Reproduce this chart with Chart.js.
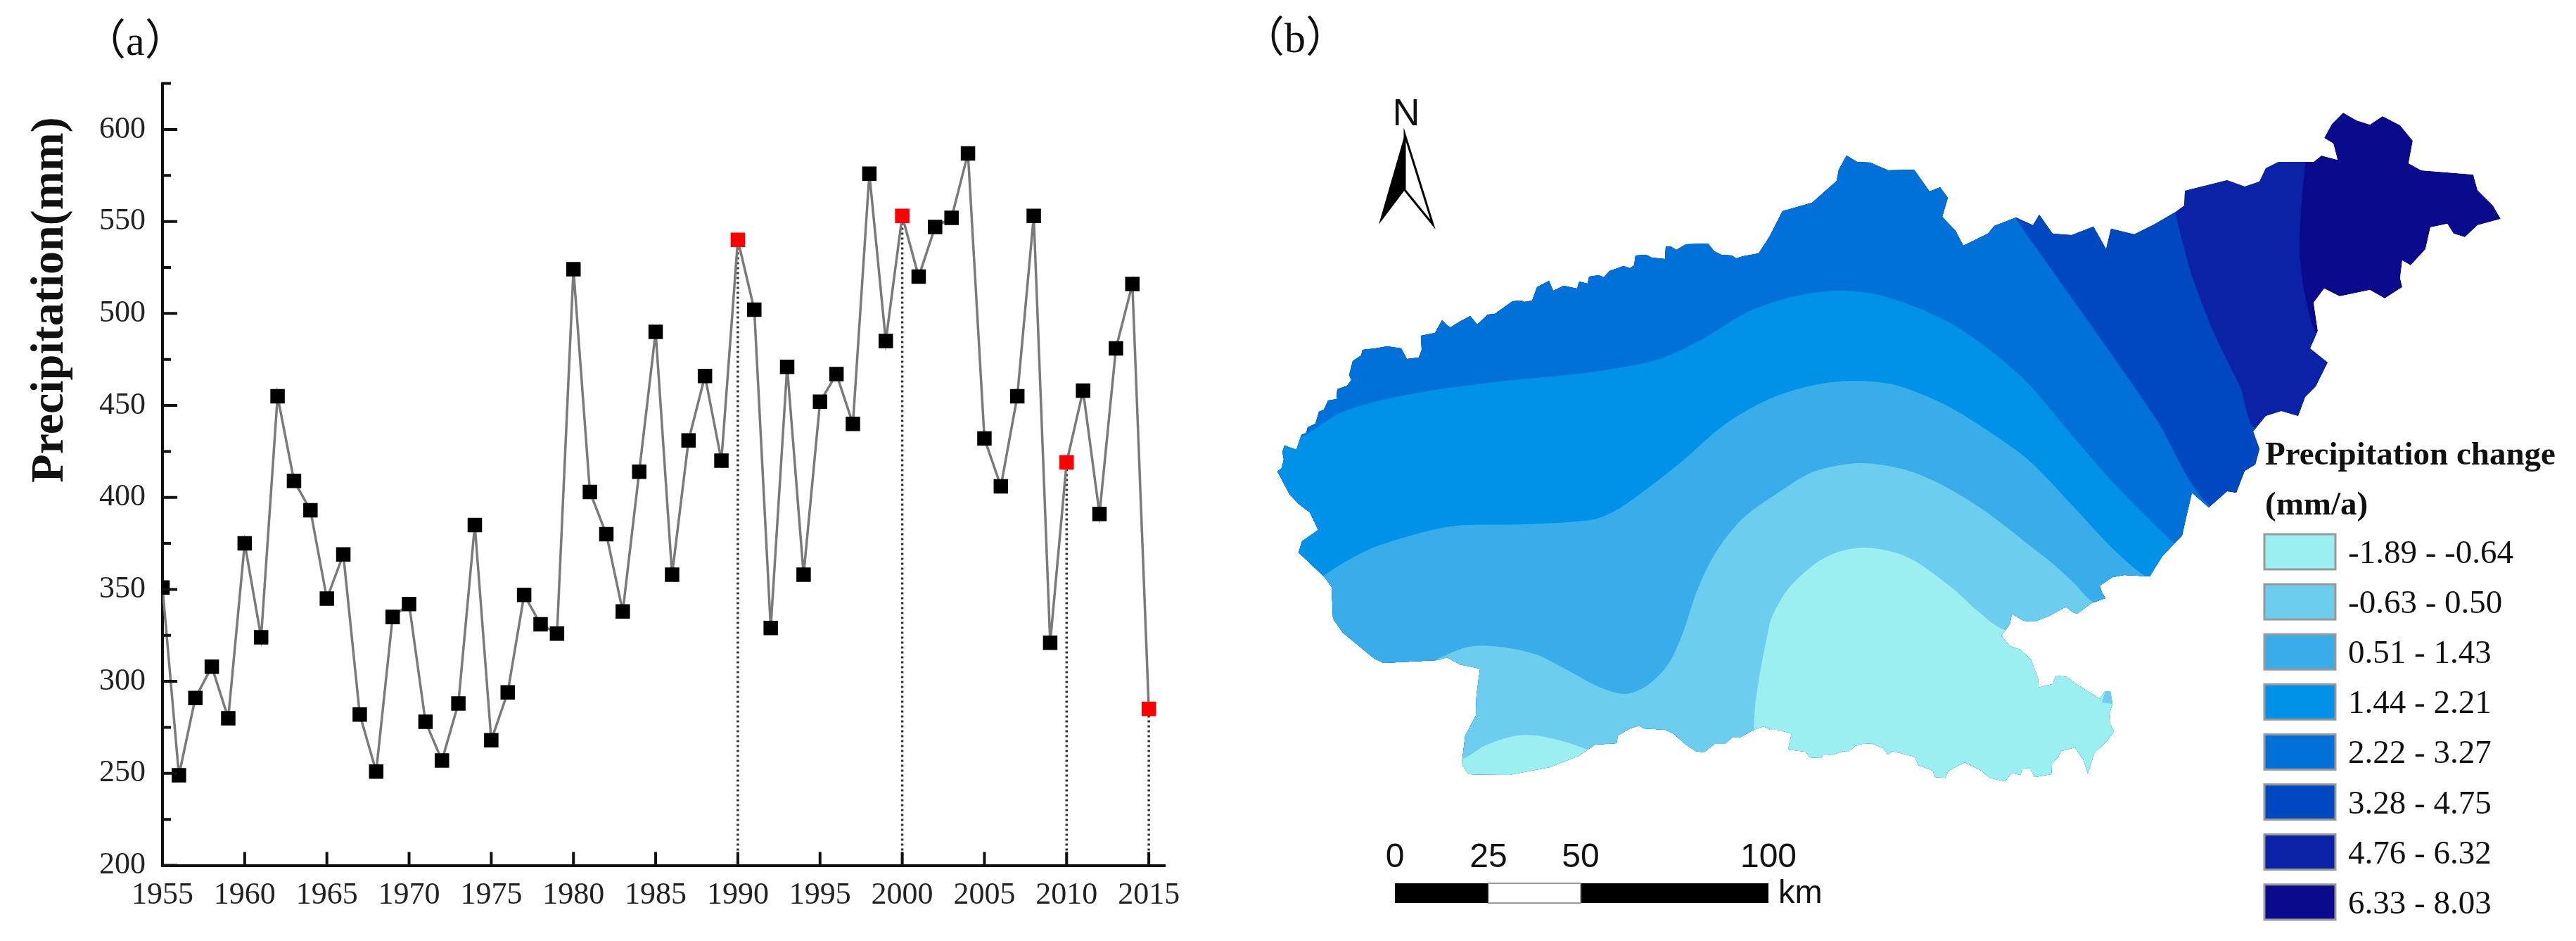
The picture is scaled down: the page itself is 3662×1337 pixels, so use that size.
<!DOCTYPE html>
<html>
<head>
<meta charset="utf-8">
<title>Precipitation</title>
<script src="https://cdn.jsdelivr.net/npm/chart.js@4"></script>
<style>
  html, body { margin: 0; padding: 0; background: #fff; }
  canvas { position: absolute; top: 0; filter: blur(0.6px); }
  #lineChart { left: 0; }
  #mapChart { left: 1750px; }
</style>
</head>
<body>
<canvas id="lineChart" width="1750" height="1337"></canvas>
<canvas id="mapChart" width="1912" height="1337"></canvas>
<script>
// (a) annual precipitation
const years = [1955,1956,1957,1958,1959,1960,1961,1962,1963,1964,1965,1966,1967,1968,1969,1970,1971,1972,1973,1974,1975,1976,1977,1978,1979,1980,1981,1982,1983,1984,1985,1986,1987,1988,1989,1990,1991,1992,1993,1994,1995,1996,1997,1998,1999,2000,2001,2002,2003,2004,2005,2006,2007,2008,2009,2010,2011,2012,2013,2014,2015];
const precipitation = [351,249,291,308,280,375,324,455,409,393,345,369,282,251,335,342,278,257,288,385,268,294,347,331,326,524,403,380,338,414,490,358,431,466,420,540,502,329,471,358,452,467,440,576,485,553,520,547,552,587,432,406,455,553,321,419,458,391,481,516,285];
const redYears = [1990, 2000, 2010, 2015];
const xTicks = [1955,1960,1965,1970,1975,1980,1985,1990,1995,2000,2005,2010,2015];
const yTicks = [200,225,250,275,300,325,350,375,400,425,450,475,500,525,550,575,600,625];

// (b) map, outline and contour lines
const outlineNorthWest = [[1816,670],[1822,665],[1825,653],[1823,642],[1826,633],[1843,639],[1850,618],[1857,615],[1859,607],[1870,602],[1875,585],[1882,582],[1888,569],[1900,567],[1901,553],[1915,548],[1921,540],[1918,533],[1923,513],[1935,505],[1937,497],[1955,495],[1972,492],[1992,495],[2000,510],[2017,508],[2021,497],[2020,477],[2040,473],[2050,455],[2058,463],[2062,465],[2075,457],[2090,449],[2100,461],[2115,447],[2125,446],[2150,428],[2163,427],[2167,429],[2178,427],[2185,408],[2202,399],[2208,413],[2223,406],[2242,410],[2245,400],[2257,403],[2259,393],[2273,391],[2280,394],[2288,385],[2308,378],[2317,381],[2323,377],[2325,363],[2340,362],[2348,366],[2367,368],[2368,350],[2375,350],[2383,355],[2397,347],[2428,346],[2437,357],[2447,362],[2462,363],[2468,367],[2478,364],[2500,360]];
const outlineNorth = [[2515,337],[2534,300],[2576,288],[2611,257],[2614,241],[2625,221],[2640,230],[2659,231],[2684,242],[2721,241],[2743,272],[2758,266],[2769,281],[2761,308],[2780,328],[2791,349],[2826,332],[2835,321],[2866,309],[2890,320],[2899,305],[2918,332],[2945,334],[2976,322],[2994,354],[3001,325],[3034,333],[3062,319],[3093,301],[3105,292],[3106,271],[3166,256],[3191,265],[3212,258],[3221,239],[3239,230],[3289,230],[3300,221],[3323,227],[3317,204],[3304,196],[3315,176],[3331,160],[3350,171],[3369,177],[3387,165],[3412,178],[3430,200],[3424,232],[3442,242],[3479,245],[3516,248],[3522,270],[3544,292],[3555,311],[3522,320],[3504,337],[3488,332],[3479,318],[3455,323],[3448,354],[3427,377],[3415,370],[3412,395],[3415,408],[3390,424],[3369,412],[3326,421],[3304,410],[3289,430],[3295,470],[3284,495],[3309,515],[3292,549],[3277,564],[3267,591],[3243,584],[3221,591],[3203,613],[3212,638],[3206,660],[3191,669],[3179,700],[3166,698],[3140,721],[3116,700],[3108,734],[3102,761],[3074,790],[3056,819]];
const outlineSouthEast = [[3020,817],[3003,820],[2985,832],[2988,842],[2993,850],[2973,857],[2953,872],[2947,870],[2937,862],[2913,875],[2893,883],[2877,882],[2860,872],[2857,887],[2845,903],[2857,918],[2872,923],[2887,937],[2897,963],[2898,977],[2918,972],[2923,960],[2938,962],[2953,973],[2985,993],[2993,982],[3000,983],[3003,1000],[2999,1013],[3000,1030],[3005,1039],[2995,1053],[2977,1070],[2968,1099],[2962,1080],[2950,1062],[2930,1067],[2925,1077],[2917,1085],[2916,1100],[2892,1104],[2887,1093],[2875,1093],[2872,1101],[2860,1098],[2850,1110],[2828,1105],[2817,1095],[2793,1083],[2770,1095],[2765,1105],[2750,1104],[2748,1095],[2727,1087],[2722,1075],[2690,1067],[2684,1072],[2677,1063],[2660,1056]];
const outlineSouth = [[2647,1057],[2637,1060],[2628,1068],[2620,1067],[2603,1073],[2593,1071],[2588,1077],[2573,1076],[2567,1068],[2542,1065],[2547,1042],[2527,1037],[2517,1037],[2507,1032],[2493,1037],[2473,1048],[2462,1048],[2452,1057],[2437,1057],[2422,1069],[2410,1067],[2393,1055],[2380,1043],[2368,1037],[2337,1035],[2330,1031],[2317,1035],[2300,1045],[2298,1056],[2267,1058],[2244,1074],[2203,1090],[2145,1101],[2088,1100],[2078,1086],[2083,1045],[2098,1017],[2099,988],[2104,950],[2075,944],[2057,934],[2043,938],[1967,942],[1954,936],[1909,899],[1895,879],[1893,834],[1883,820],[1846,785],[1851,769],[1874,753],[1862,728],[1846,716],[1833,702]];
const outline = outlineNorthWest.concat(outlineNorth, outlineSouthEast, outlineSouth);
const contour7 = [[3277,200],[3277,230],[3271,301],[3269,359],[3277,421],[3294,475],[3350,475],[3350,1300],[1760,1300],[1760,120],[3277,120]];
const contour6 = [[3093,280],[3093,305],[3117,395],[3148,475],[3185,551],[3204,607],[3300,607],[3300,1300],[1760,1300],[1760,120],[3093,120]];
const contour5 = [[2866,290],[2866,310],[2915,381],[2988,484],[3068,600],[3111,680],[3145,720],[3300,720],[3300,1300],[1760,1300],[1760,120],[2866,120]];
const contour4 = [[1800,640],[1852,620],[1909,585],[2005,560],[2133,542],[2260,529],[2356,511],[2420,482],[2483,444],[2547,422],[2611,413],[2675,420],[2761,453],[2823,493],[2884,546],[2945,618],[3007,689],[3093,774],[3130,800],[3300,800],[3300,1300],[1800,1300]];
const contour3 = [[1860,835],[1881,818],[1941,783],[2005,761],[2069,747],[2165,745],[2260,739],[2292,728],[2334,700],[2388,658],[2452,603],[2515,567],[2579,547],[2636,541],[2694,547],[2761,573],[2820,608],[2884,654],[2945,717],[3007,783],[3056,822],[3120,840],[3300,840],[3300,1300],[1800,1300]];
const contour2 = [[2043,936],[2088,919],[2133,919],[2184,930],[2228,952],[2273,976],[2311,986],[2343,973],[2372,943],[2392,900],[2413,838],[2439,785],[2477,737],[2528,700],[2579,670],[2643,658],[2707,667],[2761,689],[2823,727],[2884,774],[2917,800],[2947,827],[2975,855],[3040,880],[3300,880],[3300,1300],[2040,1300]];
const contour1 = [[2493,1040],[2495,1003],[2503,950],[2513,900],[2518,879],[2541,838],[2579,802],[2611,785],[2649,778],[2694,785],[2727,800],[2777,837],[2810,867],[2845,893],[2900,905],[3300,905],[3300,1300],[2490,1300]];
const lightSpot = [[2085,1076],[2114,1058],[2158,1045],[2196,1047],[2254,1064],[2300,1090],[2300,1200],[2060,1200],[2060,1085]];
const sliver = [[2988,998],[2993,982],[3000,983],[3003,1000]];

const legendTitle = ['Precipitation change', '(mm/a)'];
const legendLabels = ['-1.89 - -0.64','-0.63 - 0.50','0.51 - 1.43','1.44 - 2.21','2.22 - 3.27','3.28 - 4.75','4.76 - 6.32','6.33 - 8.03'];
const legendColors = ['#9BEFF0','#6CCDEE','#38ADEA','#0091E8','#0071D9','#0048C0','#0A22A6','#0A0A8C'];
const scaleKm = [0, 25, 50, 100];
const scaleKmX = [1983, 2116, 2247, 2514];

const serif = '"Liberation Serif"';
const panelFont = '60px "Liberation Serif", "Noto Sans CJK SC"';
const sans = '"Liberation Sans"';

function text(ctx, str, x, y, font, align) {
    ctx.font = font;
    ctx.fillStyle = '#111';
    ctx.textAlign = align || 'left';
    ctx.textBaseline = 'alphabetic';
    ctx.fillText(str, x, y);
}

const dropLines = redYears.map(function (yr) {
    return {
        data: [{ x: yr, y: 200 }, { x: yr, y: precipitation[years.indexOf(yr)] }],
        showLine: true,
        borderColor: '#333',
        borderWidth: 3.5,
        borderDash: [3, 4],
        pointRadius: 0
    };
});

const axisTicks = {
    id: 'axisTicks',
    afterDraw(chart) {
        const ctx = chart.ctx, xs = chart.scales.x, ys = chart.scales.y;
        ctx.save();
        ctx.strokeStyle = '#111';
        ctx.lineWidth = 4;
        ctx.beginPath();
        xTicks.forEach(function (v) {
            const px = xs.getPixelForValue(v);
            ctx.moveTo(px, ys.bottom);
            ctx.lineTo(px, ys.bottom - 19);
        });
        yTicks.forEach(function (v) {
            const py = ys.getPixelForValue(v);
            ctx.moveTo(xs.left, py);
            ctx.lineTo(xs.left + (v % 50 === 0 ? 21 : 12), py);
        });
        ctx.stroke();
        text(ctx, '（a）', 119, 78, panelFont);
        ctx.translate(89, 426);
        ctx.rotate(-Math.PI / 2);
        text(ctx, 'Precipitation(mm)', 0, 0, 'bold 66px ' + serif, 'center');
        ctx.restore();
    }
};

new Chart(document.getElementById('lineChart'), {
    type: 'scatter',
    data: {
        datasets: [{
            data: years.map(function (yr, i) { return { x: yr, y: precipitation[i] }; }),
            showLine: true,
            borderColor: '#7a7a7a',
            borderWidth: 3.5,
            pointStyle: 'rect',
            pointRadius: 14.5,
            pointBorderWidth: 0,
            pointBackgroundColor: years.map(function (yr) { return redYears.includes(yr) ? '#FF0000' : '#000'; })
        }].concat(dropLines)
    },
    plugins: [axisTicks],
    options: {
        responsive: false,
        animation: false,
        layout: { padding: { left: 111, right: 93.5, top: 118.6, bottom: 0.5 } },
        plugins: { legend: { display: false }, tooltip: { enabled: false } },
        scales: {
            x: {
                type: 'linear', min: 1955, max: 2016,
                grid: { display: false, drawTicks: false },
                border: { display: true, color: '#111', width: 4 },
                afterBuildTicks(s) { s.ticks = xTicks.map(function (v) { return { value: v }; }); },
                afterFit(s) { s.height = 107; },
                ticks: {
                    autoSkip: false, maxRotation: 0, padding: 17, color: '#222',
                    font: { family: serif, size: 44 },
                    callback: function (v) { return String(v); }
                }
            },
            y: {
                type: 'linear', min: 200, max: 625,
                grid: { display: false, drawTicks: false },
                border: { display: true, color: '#111', width: 4 },
                afterBuildTicks(s) { s.ticks = yTicks.map(function (v) { return { value: v }; }); },
                afterFit(s) { s.width = 120; },
                ticks: {
                    autoSkip: false, padding: 24, color: '#222',
                    font: { family: serif, size: 44 },
                    callback: function (v) { return v % 50 === 0 ? String(v) : ''; }
                }
            }
        }
    }
});

// (b) contour bands, drawn light on top of dark and clipped to the outline
function band(pts, color, tension) {
    return {
        data: pts.map(function (p) { return { x: p[0], y: p[1] }; }),
        showLine: true,
        fill: 'shape',
        backgroundColor: color,
        borderWidth: 0,
        pointRadius: 0,
        tension: tension
    };
}

const mapOverlay = {
    id: 'mapOverlay',
    beforeDatasetsDraw(chart) {
        const ctx = chart.ctx, xs = chart.scales.x, ys = chart.scales.y;
        ctx.save();
        ctx.beginPath();
        outline.forEach(function (p, i) {
            if (i === 0) ctx.moveTo(xs.getPixelForValue(p[0]), ys.getPixelForValue(p[1]));
            else ctx.lineTo(xs.getPixelForValue(p[0]), ys.getPixelForValue(p[1]));
        });
        ctx.closePath();
        ctx.clip();
    },
    afterDatasetsDraw(chart) {
        const ctx = chart.ctx, xs = chart.scales.x, ys = chart.scales.y;
        ctx.restore();
        const X = function (v) { return xs.getPixelForValue(v); };
        const Y = function (v) { return ys.getPixelForValue(v); };
        ctx.save();

        text(ctx, '（b）', X(1766), Y(74), panelFont);

        // north arrow
        text(ctx, 'N', X(1999), Y(178), '54px ' + sans, 'center');
        ctx.fillStyle = '#000';
        ctx.beginPath();
        ctx.moveTo(X(1997), Y(191)); ctx.lineTo(X(1960), Y(319)); ctx.lineTo(X(1997), Y(270));
        ctx.closePath(); ctx.fill();
        ctx.strokeStyle = '#000';
        ctx.lineWidth = 3;
        ctx.beginPath();
        ctx.moveTo(X(1997), Y(191)); ctx.lineTo(X(2037), Y(319)); ctx.lineTo(X(1997), Y(270));
        ctx.closePath(); ctx.stroke();

        // scale bar
        for (let i = 0; i < 3; i++) {
            ctx.fillStyle = i === 1 ? '#fff' : '#000';
            ctx.fillRect(X(scaleKmX[i]), Y(1255), scaleKmX[i + 1] - scaleKmX[i], 28);
        }
        ctx.strokeStyle = '#999';
        ctx.lineWidth = 2;
        ctx.strokeRect(X(scaleKmX[1]), Y(1255), scaleKmX[2] - scaleKmX[1], 28);
        scaleKm.forEach(function (km, i) {
            text(ctx, String(km), X(scaleKmX[i]), Y(1232), '48px ' + sans, 'center');
        });
        text(ctx, 'km', X(2528), Y(1283), '47px ' + sans);

        // legend
        text(ctx, legendTitle[0], X(3220), Y(660), 'bold 47px ' + serif);
        text(ctx, legendTitle[1], X(3220), Y(731), 'bold 47px ' + serif);
        legendLabels.forEach(function (lab, i) {
            const top = 759 + i * 71.1;
            ctx.fillStyle = legendColors[i];
            ctx.fillRect(X(3219), Y(top), 101, 50);
            ctx.strokeStyle = '#999';
            ctx.lineWidth = 3;
            ctx.strokeRect(X(3219), Y(top), 101, 50);
            text(ctx, lab, X(3338), Y(top + 41), '47px ' + serif);
        });
        ctx.restore();
    }
};

new Chart(document.getElementById('mapChart'), {
    type: 'scatter',
    data: {
        datasets: [
            band(sliver, legendColors[1], 0),
            band(lightSpot, legendColors[0], 0.3),
            band(contour1, legendColors[0], 0.3),
            band(contour2, legendColors[1], 0.3),
            band(contour3, legendColors[2], 0.3),
            band(contour4, legendColors[3], 0.3),
            band(contour5, legendColors[4], 0.2),
            band(contour6, legendColors[5], 0.2),
            band(contour7, legendColors[6], 0.2),
            band(outline, legendColors[7], 0)
        ]
    },
    plugins: [mapOverlay],
    options: {
        responsive: false,
        animation: false,
        layout: { padding: 0 },
        plugins: { legend: { display: false }, tooltip: { enabled: false } },
        scales: {
            x: { type: 'linear', min: 1750, max: 3662, display: false },
            y: { type: 'linear', min: 0, max: 1337, reverse: true, display: false }
        }
    }
});
</script>
</body>
</html>
